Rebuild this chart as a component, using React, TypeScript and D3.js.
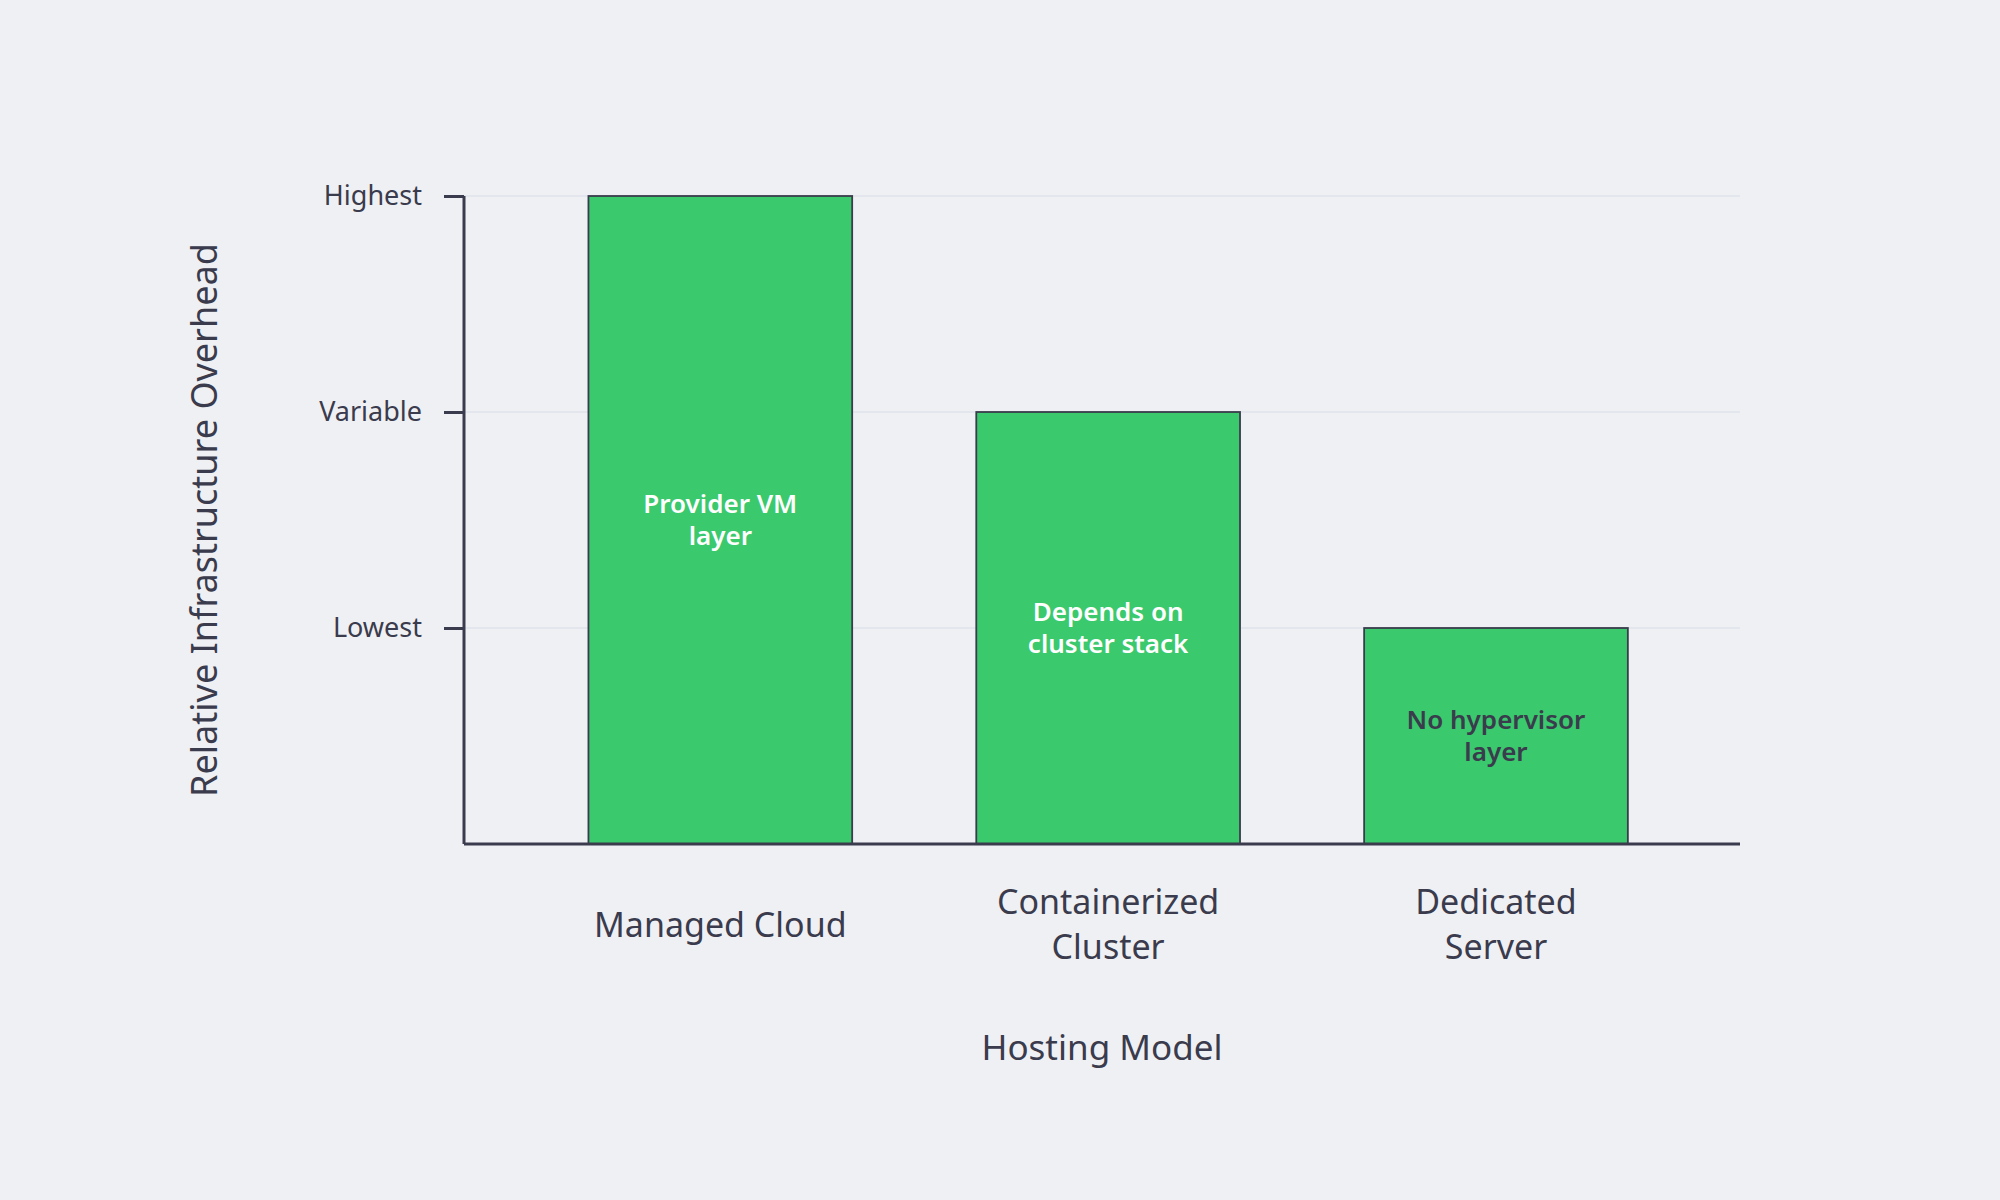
import React, { useEffect, useRef } from 'react';
import * as d3 from 'd3';

// Chart data
const categories = ['Managed Cloud', 'Containerized Cluster', 'Dedicated Server'];
const categoryLines = [['Managed Cloud'], ['Containerized', 'Cluster'], ['Dedicated', 'Server']];
const overheadLevels = [3, 2, 1];
const barNotes = [['Provider VM', 'layer'], ['Depends on', 'cluster stack'], ['No hypervisor', 'layer']];
const noteColors = ['#ffffff', '#ffffff', '#3a3b4c'];
const tickValues = [1, 2, 3];
const tickLabels = ['Lowest', 'Variable', 'Highest'];

const WIDTH = 2000;
const HEIGHT = 1200;
const FONT = '"Noto Sans", sans-serif';
const INK = '#3a3b4c';

const App: React.FC = () => {
  const svgRef = useRef<SVGSVGElement>(null);

  useEffect(() => {
    if (!svgRef.current) return;

    const svg = d3.select(svgRef.current);
    svg.selectAll('*').remove();

    const margin = { top: 196, right: 260, bottom: 356, left: 464 };
    const innerWidth = WIDTH - margin.left - margin.right;
    const innerHeight = HEIGHT - margin.top - margin.bottom;

    svg.append('rect')
      .attr('width', WIDTH)
      .attr('height', HEIGHT)
      .attr('fill', '#eff0f4');

    const g = svg.append('g')
      .attr('transform', `translate(${margin.left}, ${margin.top})`)
      .style('font-family', FONT);

    // Scales
    const x = d3.scaleBand<string>()
      .domain(categories)
      .range([0, innerWidth])
      .paddingInner(0.32)
      .paddingOuter(0.305)
      .align(0.526);

    const y = d3.scaleLinear()
      .domain([0, 3])
      .range([innerHeight, 0]);

    // Gridlines
    g.append('g')
      .selectAll('line')
      .data(tickValues)
      .enter().append('line')
      .attr('x1', 0)
      .attr('x2', innerWidth)
      .attr('y1', d => y(d))
      .attr('y2', d => y(d))
      .attr('stroke', '#dfe3ea')
      .attr('stroke-width', 1.5);

    // Bars
    g.append('g')
      .selectAll('rect')
      .data(categories)
      .enter().append('rect')
      .attr('x', d => x(d)!)
      .attr('y', (d, i) => y(overheadLevels[i]))
      .attr('width', x.bandwidth())
      .attr('height', (d, i) => innerHeight - y(overheadLevels[i]))
      .attr('fill', '#3ac96c')
      .attr('stroke', INK)
      .attr('stroke-width', 1.8);

    // Bar notes, centred in each bar
    g.append('g')
      .selectAll('text')
      .data(categories)
      .enter().append('text')
      .attr('text-anchor', 'middle')
      .attr('font-size', 26)
      .attr('font-weight', 600)
      .attr('fill', (d, i) => noteColors[i])
      .each(function (d, i) {
        const cx = x(d)! + x.bandwidth() / 2;
        const cy = (y(overheadLevels[i]) + innerHeight) / 2;
        const lines = barNotes[i];
        const lh = 32.5;
        d3.select(this).selectAll('tspan')
          .data(lines)
          .enter().append('tspan')
          .attr('x', cx)
          .attr('y', (l, j) => cy + (j - (lines.length - 1) / 2) * lh)
          .attr('dy', '0.35em')
          .text(l => l);
      });

    // Y axis
    const yAxis = g.append('g')
      .call(d3.axisLeft(y)
        .tickValues(tickValues)
        .tickFormat((d, i) => tickLabels[i])
        .tickSize(20)
        .tickPadding(22));
    yAxis.select('.domain')
      .attr('d', `M0,${y(3)}V${innerHeight}`)
      .attr('stroke', INK)
      .attr('stroke-width', 3);
    yAxis.selectAll('.tick line')
      .attr('stroke', INK)
      .attr('stroke-width', 3);
    yAxis.selectAll('.tick text')
      .attr('fill', INK)
      .attr('font-size', 27)
      .attr('font-family', FONT);

    // X axis baseline
    g.append('line')
      .attr('x1', 0)
      .attr('x2', innerWidth)
      .attr('y1', innerHeight)
      .attr('y2', innerHeight)
      .attr('stroke', INK)
      .attr('stroke-width', 3);

    // X category labels
    g.append('g')
      .selectAll('text')
      .data(categories)
      .enter().append('text')
      .attr('text-anchor', 'middle')
      .attr('font-size', 34)
      .attr('fill', INK)
      .each(function (d, i) {
        const cx = x(d)! + x.bandwidth() / 2;
        const lines = categoryLines[i];
        const lh = 45;
        d3.select(this).selectAll('tspan')
          .data(lines)
          .enter().append('tspan')
          .attr('x', cx)
          .attr('y', (l, j) => innerHeight + 81 + (j - (lines.length - 1) / 2) * lh)
          .attr('dy', '0.35em')
          .text(l => l);
      });

    // Axis titles
    g.append('text')
      .attr('x', innerWidth / 2)
      .attr('y', innerHeight + 204)
      .attr('dy', '0.35em')
      .attr('text-anchor', 'middle')
      .attr('font-size', 35)
      .attr('fill', INK)
      .text('Hosting Model');

    g.append('text')
      .attr('transform', `translate(${204 - margin.left}, ${innerHeight / 2}) rotate(-90)`)
      .attr('dy', '0.35em')
      .attr('text-anchor', 'middle')
      .attr('font-size', 36)
      .attr('fill', INK)
      .text('Relative Infrastructure Overhead');
  }, []);

  return (
    <svg
      ref={svgRef}
      width={WIDTH}
      height={HEIGHT}
      style={{ position: 'absolute', left: 0, top: 0, display: 'block' }}
    />
  );
};

export default App;
